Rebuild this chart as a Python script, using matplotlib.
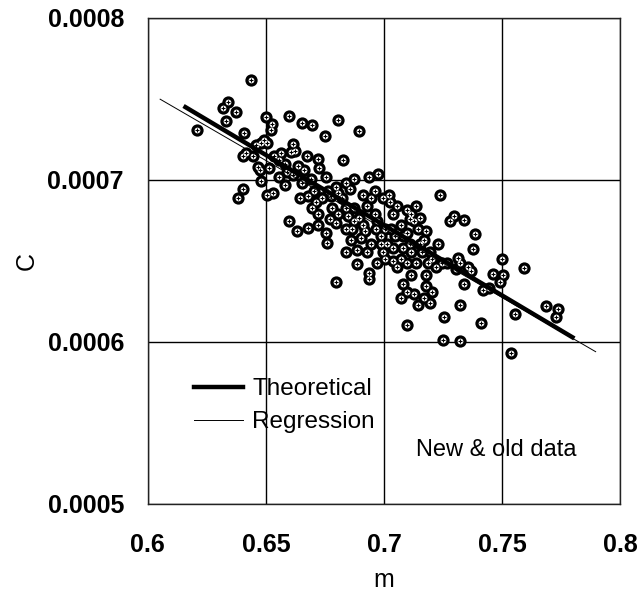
import matplotlib
matplotlib.use("Agg")
import matplotlib.pyplot as plt
from matplotlib.lines import Line2D
import numpy as np

plt.rcParams['font.family'] = ['Liberation Sans', 'DejaVu Sans']

# scatter data: m and C (units of 1e-4)
m_vals = [
    0.6436, 0.6208, 0.6320, 0.6341, 0.6332, 0.6372, 0.6407, 0.6405, 0.6415, 0.6458,
    0.6465, 0.6474, 0.6479, 0.6384, 0.6403, 0.6500, 0.6527, 0.6522, 0.6493, 0.6479,
    0.6505, 0.6531, 0.6534, 0.6599, 0.6651, 0.6696, 0.6749, 0.6806, 0.6896, 0.6617,
    0.6608, 0.6674, 0.6720, 0.6725, 0.6827, 0.6582, 0.6637, 0.6660, 0.6556, 0.6579,
    0.6651, 0.6596, 0.6630, 0.6680, 0.6689, 0.6703, 0.6755, 0.6763, 0.6711, 0.6694,
    0.6720, 0.6798, 0.6775, 0.6806, 0.6858, 0.6935, 0.6975, 0.6910, 0.6944, 0.6927,
    0.6961, 0.6755, 0.6760, 0.6798, 0.6837, 0.6837, 0.6861, 0.6875, 0.6892, 0.6918,
    0.6884, 0.6927, 0.6887, 0.6798, 0.6935, 0.6935, 0.6970, 0.6965, 0.6987, 0.6987,
    0.7027, 0.7039, 0.7030, 0.7013, 0.7004, 0.7073, 0.7082, 0.7082, 0.7073, 0.7056,
    0.7099, 0.7116, 0.7134, 0.7125, 0.7142, 0.7177, 0.7151, 0.7159, 0.7194, 0.7202,
    0.7228, 0.7134, 0.7116, 0.7082, 0.7073, 0.7125, 0.7142, 0.7177, 0.7177, 0.7202,
    0.7194, 0.7237, 0.7280, 0.7297, 0.7340, 0.7268, 0.7314, 0.7320, 0.7383, 0.7375,
    0.7366, 0.7340, 0.7444, 0.7461, 0.7492, 0.7504, 0.7500, 0.7590, 0.7323, 0.7254,
    0.7409, 0.7096, 0.7249, 0.7323, 0.7556, 0.7538, 0.7685, 0.7736, 0.7728,
    0.6737, 0.6780, 0.6823, 0.6849, 0.6806, 0.6772, 0.6866, 0.6901, 0.6944, 0.6961,
    0.7004, 0.7047, 0.7039, 0.7099, 0.7108, 0.7116, 0.7168, 0.7099, 0.7039, 0.6996,
    0.6875, 0.6910, 0.6841, 0.6970, 0.7185, 0.7220, 0.7245, 0.7168, 0.7099, 0.7357,
    0.7306, 0.7418, 0.6996, 0.7022, 0.7056, 0.7151, 0.7108, 0.6720, 0.6841, 0.6875,
    0.6643, 0.6677, 0.6617, 0.6591, 0.6513, 0.6556, 0.6565, 0.6625, 0.6444, 0.6505,
]
c_vals = [
    7.616, 7.309, 7.444, 7.479, 7.366, 7.416, 7.291, 7.149, 7.168, 7.215,
    7.081, 7.062, 6.991, 6.890, 6.944, 7.385, 7.345, 7.309, 7.243, 7.227,
    6.909, 6.921, 7.144, 7.397, 7.350, 7.338, 7.272, 7.368, 7.300, 7.220,
    7.173, 7.144, 7.126, 7.074, 7.121, 7.097, 7.086, 7.062, 7.015, 6.968,
    6.979, 6.744, 6.685, 6.701, 7.003, 6.932, 7.015, 6.932, 6.862, 6.826,
    6.791, 6.956, 6.897, 6.921, 6.944, 7.015, 7.038, 6.909, 6.885, 6.838,
    6.932, 6.673, 6.612, 6.732, 6.826, 6.697, 6.626, 6.744, 6.767, 6.685,
    6.567, 6.555, 6.477, 6.371, 6.426, 6.390, 6.744, 6.697, 6.650, 6.602,
    6.862, 6.791, 6.697, 6.602, 6.508, 6.720, 6.650, 6.579, 6.508, 6.461,
    6.815, 6.791, 6.838, 6.744, 6.697, 6.685, 6.602, 6.555, 6.555, 6.508,
    6.602, 6.485, 6.414, 6.355, 6.272, 6.296, 6.225, 6.414, 6.343, 6.308,
    6.237, 6.909, 6.744, 6.779, 6.749, 6.489, 6.518, 6.485, 6.668, 6.574,
    6.437, 6.355, 6.331, 6.419, 6.367, 6.414, 6.513, 6.456, 6.225, 6.150,
    6.115, 6.103, 6.013, 6.001, 6.173, 5.928, 6.221, 6.202, 6.150,
    6.885, 6.826, 6.885, 6.779, 6.791, 6.756, 6.697, 6.638, 6.602, 6.791,
    6.697, 6.650, 6.579, 6.673, 6.602, 6.555, 6.626, 6.485, 6.496, 6.555,
    6.826, 6.720, 6.555, 6.485, 6.485, 6.461, 6.485, 6.272, 6.308, 6.461,
    6.449, 6.320, 6.885, 6.909, 6.838, 6.767, 6.756, 6.720, 6.979, 7.003,
    6.885, 6.897, 7.027, 7.050, 7.074, 7.121, 7.168, 7.180, 7.144, 7.227,
]

theo_m = [0.6152, 0.7805]
theo_c = [7.456, 6.020]
reg_m = [0.6053, 0.7895]
reg_c = [7.498, 5.938]

x_ticks = [0.6, 0.65, 0.7, 0.75, 0.8]
x_labels = ["0.6", "0.65", "0.7", "0.75", "0.8"]
y_ticks = [0.0005, 0.0006, 0.0007, 0.0008]
y_labels = ["0.0005", "0.0006", "0.0007", "0.0008"]

scale = 1e-4
mx = np.array(m_vals)
cy = np.array(c_vals) * scale

fig = plt.figure(figsize=(6.39, 5.98), dpi=100)
ax = fig.add_axes([0.231, 0.158, 0.740, 0.812])

ax.set_xlim(0.6, 0.8)
ax.set_ylim(0.0005, 0.0008)
ax.set_xticks(x_ticks)
ax.set_xticklabels(x_labels, fontsize=18, fontweight='bold')
ax.set_yticks(y_ticks)
ax.set_yticklabels(y_labels, fontsize=18, fontweight='bold')
ax.tick_params(length=0)
ax.tick_params(axis='x', pad=21)
ax.tick_params(axis='y', pad=17)
ax.grid(True, color='black', linewidth=1.0)
ax.set_axisbelow(True)
for sp in ax.spines.values():
    sp.set_linewidth(1.0)
    sp.set_color('#222222')

# markers: black disc, white centre, small cross
ax.scatter(mx, cy, s=78, color='black', linewidths=0, zorder=3)
ax.scatter(mx, cy, s=17, color='white', linewidths=0, zorder=4)
ax.scatter(mx, cy, s=7, marker='+', color='black', linewidths=0.8, zorder=5)

ax.plot(theo_m, np.array(theo_c) * scale, color='black', linewidth=3.2,
        solid_capstyle='butt', zorder=6)
ax.plot(reg_m, np.array(reg_c) * scale, color='black', linewidth=0.7, zorder=6)

handles = [Line2D([], [], color='black', linewidth=3.2),
           Line2D([], [], color='black', linewidth=0.7)]
leg = ax.legend(handles, ["Theoretical", "Regression"], loc='center left',
                bbox_to_anchor=(0.098, 0.201), frameon=False, fontsize=17.5,
                handlelength=2.0, handletextpad=0.4, labelspacing=0.45,
                borderpad=0, borderaxespad=0)

ax.text(0.7475, 0.000533, "New & old data", fontsize=17, ha='center', va='center')

ax.set_xlabel("m", fontsize=18, labelpad=8)
ax.set_ylabel("C", fontsize=18, labelpad=6)

fig.savefig("out.png", dpi=100)
